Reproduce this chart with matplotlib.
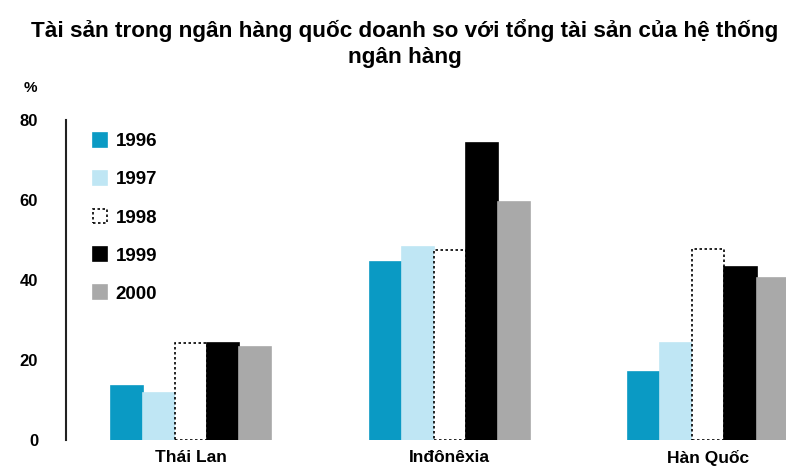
import matplotlib
matplotlib.use("Agg")
import matplotlib.pyplot as plt
import numpy as np

plt.rcParams['font.family'] = ['Liberation Sans', 'DejaVu Sans']

categories = ["Thái Lan", "Inđônêxia", "Hàn Quốc"]
years = ["1996", "1997", "1998", "1999", "2000"]
values = {
    "1996": [13.5, 44.5, 17.0],
    "1997": [11.8, 48.3, 24.2],
    "1998": [24.2, 47.6, 47.7],
    "1999": [24.2, 74.3, 43.3],
    "2000": [23.3, 59.5, 40.5],
}
yticks = [0, 20, 40, 60, 80]
title = "Tài sản trong ngân hàng quốc doanh so với tổng tài sản của hệ thống\nngân hàng"

styles = {
    "1996": dict(facecolor="#0a9ac4", edgecolor="#0a9ac4", linestyle="-"),
    "1997": dict(facecolor="#bfe6f4", edgecolor="#bfe6f4", linestyle="-"),
    "1998": dict(facecolor="white", edgecolor="black", linestyle=(0, (1.5, 1.5))),
    "1999": dict(facecolor="black", edgecolor="black", linestyle="-"),
    "2000": dict(facecolor="#a9a9a9", edgecolor="#a9a9a9", linestyle="-"),
}

W, H = 786, 470
fig = plt.figure(figsize=(W / 100, H / 100), dpi=100)
ax = fig.add_axes([66 / W, 30 / H, 1 - 66 / W, (440 - 120) / H])

x = np.arange(len(categories))
bw = 0.124
for i, y in enumerate(years):
    offs = (i - 2) * bw
    ax.bar(x + offs, values[y], width=bw, label=y, linewidth=1.2, **styles[y])

ax.set_ylim(0, 80)
ax.set_xlim(-0.484, 2.30)
ax.set_yticks(yticks)
ax.set_yticklabels([str(t) for t in yticks], fontsize=12, fontweight="bold")
ax.tick_params(axis="y", length=0, pad=20)
ax.set_xticks(x)
ax.set_xticklabels(categories, fontsize=12.5, fontweight="bold")
ax.tick_params(axis="x", length=0, pad=7)
for s in ["top", "right", "bottom"]:
    ax.spines[s].set_visible(False)
ax.spines["left"].set_linewidth(1.5)
ax.spines["left"].set_color("#222222")

fig.text(405 / W, 1 - 30 / H, title.split("\n")[0], ha="center", va="center",
         fontsize=16.2, fontweight="bold")
fig.text(405 / W, 1 - 58 / H, title.split("\n")[1], ha="center", va="center",
         fontsize=16.2, fontweight="bold")
fig.text(30 / W, 1 - 88 / H, "%", ha="center", va="center", fontsize=11, fontweight="bold")

leg = ax.legend(loc="upper left", bbox_to_anchor=(0.014, 1.012), frameon=False,
                handlelength=0.75, handleheight=0.75,
                labelspacing=1.1, handletextpad=0.45, prop={"weight": "bold", "size": 13.5})

fig.savefig("out.png", dpi=100)
